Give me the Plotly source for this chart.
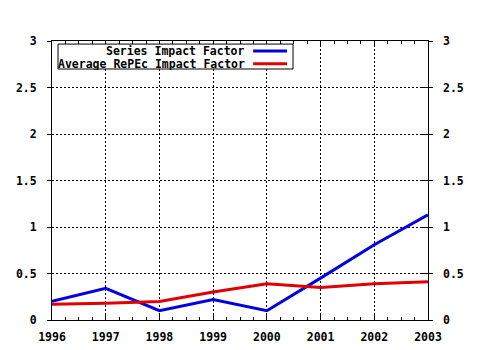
import plotly.graph_objects as go

# Impact factor series, 1996-2003
years = [1996, 1997, 1998, 1999, 2000, 2001, 2002, 2003]
series_if = [0.20, 0.34, 0.10, 0.22, 0.10, 0.45, 0.81, 1.13]
repec_if = [0.17, 0.18, 0.20, 0.30, 0.39, 0.35, 0.39, 0.41]

series_names = ["Series Impact Factor", "Average RePEc Impact Factor"]
series_colors = ["#0000e0", "#e00000"]
y_ticks = [0, 0.5, 1, 1.5, 2, 2.5, 3]
y_labels = ["0", "0.5", "1", "1.5", "2", "2.5", "3"]

FONT = dict(family="DejaVu Sans Mono", size=11.5, color="black", weight="bold")

fig = go.Figure()
for name, vals, col in zip(series_names, [series_if, repec_if], series_colors):
    fig.add_trace(go.Scatter(x=years, y=vals, mode="lines", name=name,
                             line=dict(color=col, width=3), showlegend=False))
# carrier for the right-hand axis
fig.add_trace(go.Scatter(x=[], y=[], yaxis="y2", showlegend=False))

fig.update_layout(
    width=480, height=350,
    margin=dict(l=52, r=52, t=41, b=30, autoexpand=False),
    paper_bgcolor="white", plot_bgcolor="white",
    font=FONT,
    xaxis=dict(range=[1996, 2003], tickvals=years, ticktext=[str(y) for y in years],
               ticks="inside", ticklen=6, tickcolor="black", tickwidth=1,
               showline=True, linecolor="black", linewidth=1, mirror="ticks",
               showgrid=True, gridcolor="black", gridwidth=1, griddash="2px,2px",
               zeroline=False, tickfont=FONT, ticklabelstandoff=6, automargin=False,
               minor=dict(dtick=0.25, tick0=1996, ticks="inside", ticklen=3,
                          tickcolor="black", showgrid=False)),
    yaxis=dict(range=[0, 3], tickvals=y_ticks, ticktext=y_labels,
               ticks="outside", ticklen=4, tickcolor="black", tickwidth=1,
               showline=True, linecolor="black", linewidth=1, mirror="ticks",
               showgrid=True, gridcolor="black", gridwidth=1, griddash="2px,2px",
               zeroline=False, tickfont=FONT, ticklabelstandoff=8, automargin=False),
    yaxis2=dict(range=[0, 3], tickvals=y_ticks, ticktext=y_labels,
                overlaying="y", side="right", showgrid=False, zeroline=False,
                ticks="inside", ticklen=6, tickcolor="black", tickwidth=1,
                showline=False, tickfont=FONT, ticklabelstandoff=14, automargin=False),
)

# legend box with right-aligned labels and line samples on the right
fig.add_shape(type="rect", xref="paper", yref="paper",
              x0=0.016, x1=0.641, y0=0.8996, y1=0.989,
              line=dict(color="black", width=1), fillcolor="white", layer="above")
for name, col, yp in zip(series_names, series_colors, [0.964, 0.9186]):
    fig.add_annotation(xref="paper", yref="paper", x=0.515, y=yp, text=name,
                       showarrow=False, xanchor="right", yanchor="middle",
                       font=FONT, borderpad=0, height=12)
    fig.add_shape(type="line", xref="paper", yref="paper",
                  x0=0.535, x1=0.625, y0=yp, y1=yp,
                  line=dict(color=col, width=3), layer="above")

fig.write_html("out.html")
